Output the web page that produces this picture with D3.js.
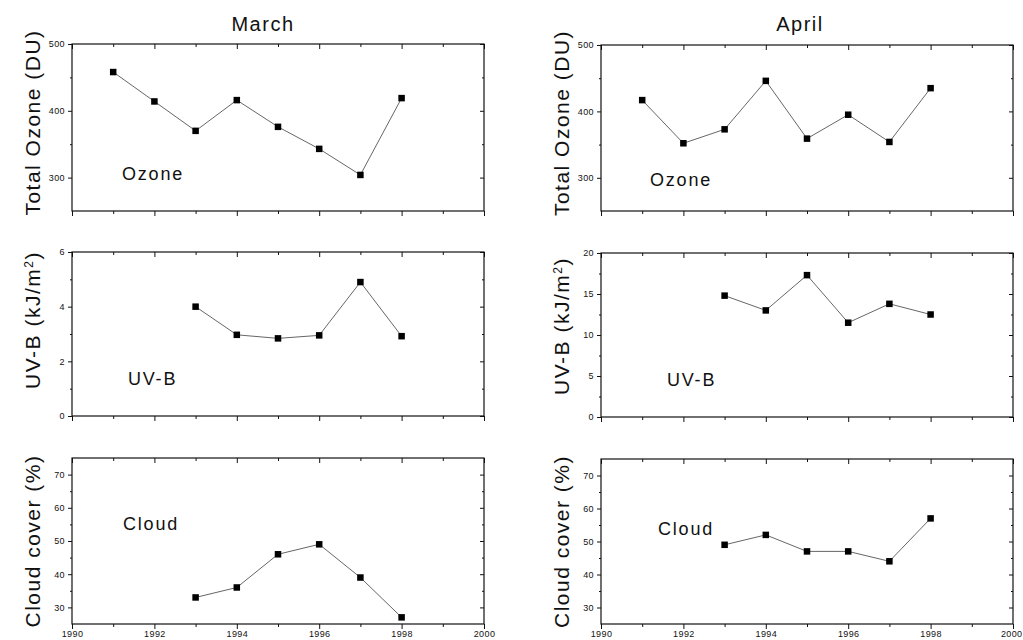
<!DOCTYPE html>
<html>
<head>
<meta charset="utf-8">
<script src="https://cdn.jsdelivr.net/npm/d3@7"></script>
<style>
  html, body { margin: 0; padding: 0; background: #fff; }
  svg { display: block; font-family: "Liberation Sans", Arial, Helvetica, sans-serif; }
  .tick text { font-size: 9px; letter-spacing: 0.4px; fill: #111; }
  .domain { display: none; }
  .tick line { stroke: #111; stroke-width: 1; }
</style>
</head>
<body>
<svg id="chart" width="1023" height="640"></svg>
<script>
// Yearly means for March and April
const ozoneYears = [1991, 1992, 1993, 1994, 1995, 1996, 1997, 1998];
const marchOzone = [458, 414, 370, 416, 376, 343, 304, 419];
const aprilOzone = [417, 352, 373, 446, 359, 395, 354, 435];

const seriesYears = [1993, 1994, 1995, 1996, 1997, 1998];
const marchUVB = [4.0, 2.97, 2.84, 2.95, 4.9, 2.92];
const aprilUVB = [14.8, 13.0, 17.3, 11.5, 13.8, 12.5];
const marchCloud = [33, 36, 46, 49, 39, 27];
const aprilCloud = [49, 52, 47, 47, 44, 57];

// Axis ticks
const yearTicks = [1990, 1992, 1994, 1996, 1998, 2000];
const yearMinor = [1991, 1993, 1995, 1997, 1999];
const ozoneTicks = [300, 400, 500];
const ozoneMinor = [250, 350, 450];
const uvbMarchTicks = [0, 2, 4, 6];
const uvbMarchMinor = [1, 3, 5];
const uvbAprilTicks = [0, 5, 10, 15, 20];
const uvbAprilMinor = [2.5, 7.5, 12.5, 17.5];
const cloudTicks = [30, 40, 50, 60, 70];
const cloudMinor = [25, 35, 45, 55, 65, 75];

const months = ["March", "April"];

const svg = d3.select("#chart");

// Column geometry
const columns = [
  { left: 72, tops: [44, 252, 458], heights: [167, 164, 166], titleX: 263, labelX: 40 },
  { left: 601, tops: [45, 253, 459], heights: [166, 164, 165], titleX: 800, labelX: 569 }
];
const plotW = 412;

const rows = [
  {
    name: "Ozone", domain: [250, 500], yLabel: "Total Ozone (DU)",
    ticks: [ozoneTicks, ozoneTicks], minor: [ozoneMinor, ozoneMinor],
    years: ozoneYears, values: [marchOzone, aprilOzone],
    textPos: [[50, 136], [49, 141]], labelCenter: [-5, -5]
  },
  {
    name: "UV-B", domain: [[0, 6], [0, 20]], yLabel: "UV-B",
    ticks: [uvbMarchTicks, uvbAprilTicks], minor: [uvbMarchMinor, uvbAprilMinor],
    years: seriesYears, values: [marchUVB, aprilUVB],
    textPos: [[56, 133], [66, 133]], labelCenter: [-14, -9]
  },
  {
    name: "Cloud", domain: [25, 75], yLabel: "Cloud cover (%)",
    ticks: [cloudTicks, cloudTicks], minor: [cloudMinor, cloudMinor],
    years: seriesYears, values: [marchCloud, aprilCloud],
    textPos: [[51, 72], [57, 76]], labelCenter: [0, 0]
  }
];

columns.forEach((col, ci) => {
  // Month title
  svg.append("text")
    .attr("x", col.titleX).attr("y", 31)
    .attr("text-anchor", "middle")
    .style("font-size", "20px").style("letter-spacing", "1.5px")
    .attr("fill", "#111")
    .text(months[ci]);

  rows.forEach((row, ri) => {
    const top = col.tops[ri];
    const h = col.heights[ri];
    const dom = Array.isArray(row.domain[0]) ? row.domain[ci] : row.domain;

    const x = d3.scaleLinear().domain([1990, 2000]).range([col.left, col.left + plotW]);
    const y = d3.scaleLinear().domain(dom).range([top + h, top]);

    const g = svg.append("g");

    // Left axis: major and minor ticks outward
    g.append("g").attr("transform", `translate(${col.left},0)`)
      .call(d3.axisLeft(y).tickValues(row.ticks[ci]).tickSize(4).tickPadding(3)
        .tickFormat(d3.format("d")));
    g.append("g").attr("transform", `translate(${col.left},0)`)
      .call(d3.axisLeft(y).tickValues(row.minor[ci].filter(v => v > dom[0] && v < dom[1]))
        .tickSize(2).tickFormat(""));

    // Right axis: ticks inward
    g.append("g").attr("transform", `translate(${col.left + plotW},0)`)
      .call(d3.axisRight(y).tickValues(row.ticks[ci]).tickSize(-4).tickFormat(""));
    g.append("g").attr("transform", `translate(${col.left + plotW},0)`)
      .call(d3.axisRight(y).tickValues(row.minor[ci].filter(v => v > dom[0] && v < dom[1]))
        .tickSize(-2).tickFormat(""));

    // Bottom axis: ticks outward, year labels only on the lowest panel
    const bottom = d3.axisBottom(x).tickValues(yearTicks).tickSize(5).tickPadding(2)
      .tickFormat(ri === 2 ? d3.format("d") : "");
    const bAxis = g.append("g").attr("transform", `translate(0,${top + h})`).call(bottom);
    if (ri === 2 && ci === 1) {
      // keep the last year label inside the page edge
      bAxis.selectAll(".tick text").filter(d => d === 2000).attr("text-anchor", "end").attr("dx", "9");
    }
    g.append("g").attr("transform", `translate(0,${top + h})`)
      .call(d3.axisBottom(x).tickValues(yearMinor).tickSize(3).tickFormat(""));

    // Top axis: ticks inward
    g.append("g").attr("transform", `translate(0,${top})`)
      .call(d3.axisTop(x).tickValues(yearTicks).tickSize(-5).tickFormat(""));
    g.append("g").attr("transform", `translate(0,${top})`)
      .call(d3.axisTop(x).tickValues(yearMinor).tickSize(-3).tickFormat(""));

    // Frame
    g.append("rect")
      .attr("x", col.left).attr("y", top)
      .attr("width", plotW).attr("height", h)
      .attr("fill", "none").attr("stroke", "#111").attr("stroke-width", 1.2);

    // Series line and square markers
    const pts = row.years.map((yr, i) => [yr, row.values[ci][i]]);
    g.append("path")
      .datum(pts)
      .attr("fill", "none")
      .attr("stroke", "#555")
      .attr("stroke-width", 0.9)
      .attr("d", d3.line().x(d => x(d[0])).y(d => y(d[1])));
    g.selectAll("rect.pt").data(pts).join("rect")
      .attr("class", "pt")
      .attr("x", d => x(d[0]) - 3.25).attr("y", d => y(d[1]) - 3.25)
      .attr("width", 6.5).attr("height", 6.5)
      .attr("fill", "#000");

    // Panel name
    g.append("text")
      .attr("x", col.left + row.textPos[ci][0])
      .attr("y", top + row.textPos[ci][1])
      .style("font-size", "18px").style("letter-spacing", "1.8px")
      .attr("fill", "#111")
      .text(row.name);

    // Y axis title
    const cy = top + h / 2 + row.labelCenter[ci];
    const t = g.append("text")
      .attr("transform", `translate(${col.labelX},${cy}) rotate(-90)`)
      .attr("text-anchor", "middle")
      .style("font-size", "21px").style("letter-spacing", "1.5px")
      .attr("fill", "#111");
    if (row.name === "UV-B") {
      t.append("tspan").text("UV-B (kJ/m");
      t.append("tspan").attr("baseline-shift", "super").style("font-size", "12px").text("2");
      t.append("tspan").text(")");
    } else {
      t.text(row.yLabel);
    }
  });
});
</script>
</body>
</html>
